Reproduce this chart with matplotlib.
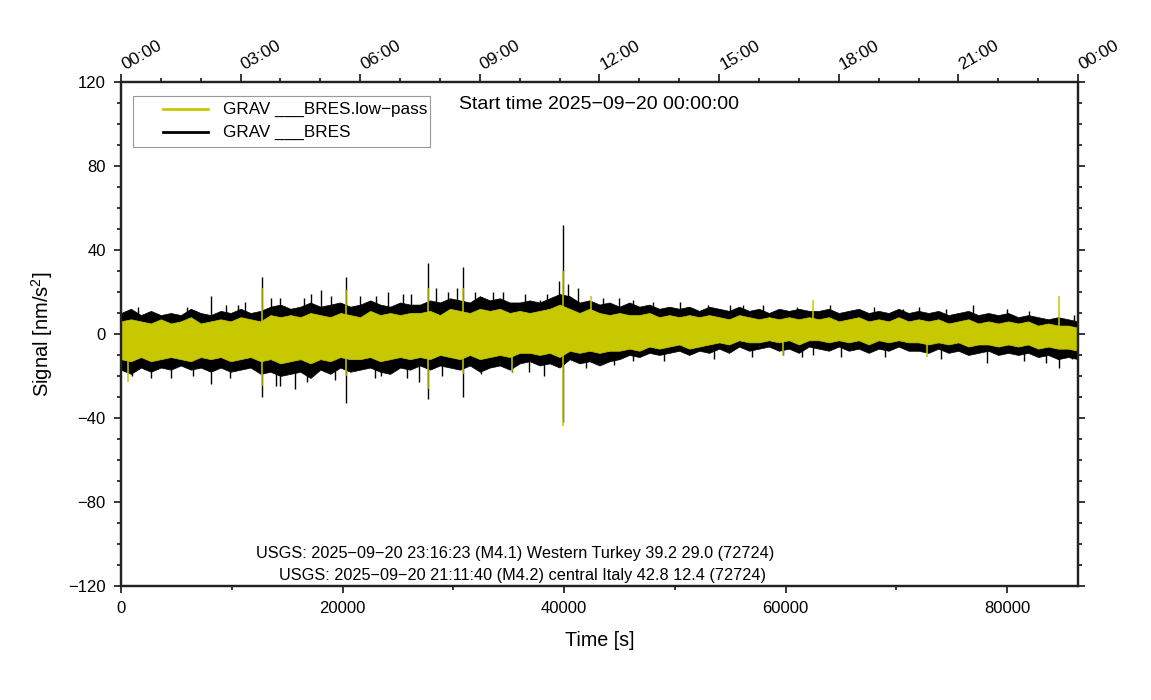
import matplotlib
matplotlib.use("Agg")
import matplotlib.pyplot as plt
import matplotlib.transforms as mtransforms
import numpy as np

plt.rcParams["font.family"] = ["Liberation Sans", "DejaVu Sans"]
plt.rcParams["mathtext.fontset"] = "custom"
plt.rcParams["mathtext.rm"] = "Liberation Sans"

# envelope of the traces, read every 900 s
t_env = np.arange(0, 86401, 900)
black_hi = [10, 12, 9, 11, 9, 10, 9, 12, 10, 9,
            11, 10, 12, 10, 11, 13, 14, 12, 13, 15,
            13, 14, 15, 13, 14, 16, 14, 13, 15, 14,
            14, 16, 15, 17, 16, 15, 18, 16, 17, 15,
            15, 16, 15, 17, 19, 18, 15, 16, 14, 15,
            13, 15, 13, 14, 12, 13, 12, 13, 11, 13,
            12, 11, 13, 11, 12, 10, 12, 11, 12, 11,
            11, 12, 10, 11, 12, 10, 11, 10, 12, 10,
            11, 10, 11, 9, 10, 11, 9, 10, 9, 10,
            8, 9, 8, 7, 8, 7, 6]
black_lo = [-17, -19, -16, -18, -16, -17, -15, -17, -16, -18,
            -16, -18, -17, -16, -19, -18, -20, -19, -18, -21,
            -17, -19, -16, -18, -17, -16, -18, -19, -16, -17,
            -15, -17, -15, -16, -17, -15, -18, -16, -15, -17,
            -14, -13, -15, -14, -16, -12, -14, -13, -15, -13,
            -12, -10, -11, -9, -10, -9, -8, -10, -8, -9,
            -7, -9, -6, -8, -7, -6, -8, -7, -9, -6,
            -7, -8, -6, -8, -7, -9, -7, -8, -6, -8,
            -8, -9, -7, -9, -8, -10, -9, -8, -10, -9,
            -10, -9, -11, -10, -12, -11, -12]
ylw_hi = [6, 7, 6, 5, 7, 5, 6, 8, 5, 6,
          7, 6, 8, 7, 6, 9, 8, 9, 8, 10,
          9, 8, 10, 9, 8, 11, 9, 10, 9, 10,
          10, 11, 9, 12, 11, 10, 12, 11, 12, 10,
          11, 10, 11, 12, 14, 12, 10, 12, 10, 9,
          10, 9, 9, 10, 8, 9, 8, 9, 8, 9,
          8, 7, 9, 8, 7, 8, 7, 8, 7, 8,
          7, 8, 6, 7, 8, 6, 7, 6, 8, 6,
          7, 6, 7, 5, 6, 7, 5, 6, 5, 6,
          5, 6, 4, 5, 4, 4, 3]
ylw_lo = [-12, -13, -11, -13, -12, -11, -12, -13, -11, -12,
          -11, -13, -12, -11, -13, -12, -14, -13, -12, -14,
          -12, -13, -11, -12, -12, -11, -13, -12, -11, -12,
          -11, -12, -10, -11, -12, -10, -12, -11, -10, -11,
          -9, -9, -10, -9, -11, -8, -9, -8, -9, -8,
          -8, -7, -8, -6, -7, -6, -5, -7, -6, -5,
          -4, -5, -3, -4, -4, -3, -4, -3, -5, -3,
          -3, -4, -3, -4, -3, -5, -3, -4, -3, -4,
          -4, -5, -4, -5, -4, -6, -5, -5, -6, -5,
          -6, -5, -7, -6, -7, -7, -8]

# single spikes sticking out of the band
spike_t = [2700, 4500, 8100, 8100, 10600, 11200, 12700, 12700, 14000, 14400, 14400, 15700,
           17200, 18100, 20300, 20300, 21600, 22900, 24100, 26200, 26900, 27700, 27700, 28400,
           30300, 30900, 30900, 33600, 35300, 37800, 39500, 39900, 39900, 40400, 41300, 46200,
           46200, 51200, 56200, 59800, 62500, 66700, 70600, 76900, 78200, 84700, 85900,
           1500, 6000, 9500, 13500, 16500, 19000, 23000, 25500, 29500, 32000, 34500, 36500,
           38500, 43500, 45000, 48000, 50500, 53000, 55000, 58000, 61000, 64000, 68000, 72000,
           74500, 80000, 82000, 86000,
           1000, 6500, 9800, 16800, 19300, 23500, 25800, 29000, 32500, 36800, 38200, 42000,
           44500, 49000, 53500, 57000, 61500, 65000, 69000, 74000, 81500, 83500]
spike_v = [-21, -21, 18, -24, 14, 15, 27, -30, -25, 17, -25, -26, 19, 21, 27, -33, 18, -21,
           20, 19, -23, 34, -31, 22, 22, 32, -30, 20, -18, 16, 25, 52, -42, 24, 22, 16, -13,
           13, 14, -10, -10, 11, 12, 14, -14, -16, -12,
           13, 13, 14, 17, 17, 18, 18, 19, 20, 20, 20, 19,
           19, 17, 17, 15, 15, 14, 14, 14, 13, 14, 13, 13,
           12, 12, 11, 9,
           -20, -20, -21, -23, -22, -20, -21, -20, -19, -18, -20, -16,
           -15, -13, -12, -11, -11, -11, -11, -12, -13, -14]
ylw_spike_t = [630, 12700, 12700, 20300, 20300, 27700, 27700, 30900, 30900, 35300, 39900,
               39900, 42400, 59800, 62500, 72800, 84700]
ylw_spike_v = [-23, 22, -25, 21, -20, 22, -26, 22, -19, -18, 30, -44, 18, -10, 16, -11, 18]

hour_ticks = np.arange(0, 86401, 10800)
hour_labels = ["00:00", "03:00", "06:00", "09:00", "12:00", "15:00", "18:00", "21:00", "00:00"]

YELLOW = "#c8c800"

fig = plt.figure(figsize=(11.51, 7.0), dpi=100)
ax = fig.add_axes([0.1051, 0.1629, 0.8315, 0.72])

# raw trace first, low-pass on top of it
ax.fill_between(t_env, black_lo, black_hi, color="k", lw=0.5, zorder=1.0)
ax.vlines(spike_t, 0, spike_v, color="k", lw=1.0, zorder=1.1)
ax.fill_between(t_env, ylw_lo, ylw_hi, color=YELLOW, lw=0.5, zorder=1.2)
ax.vlines(ylw_spike_t, 0, ylw_spike_v, color=YELLOW, lw=1.1, zorder=1.3)

ax.set_xlim(0, 86400)
ax.set_ylim(-120, 120)
ax.set_xticks(np.arange(0, 86401, 20000))
ax.set_xticks(np.arange(10000, 86401, 20000), minor=True)
ax.set_yticks(np.arange(-120, 121, 40))
ax.set_yticks(np.arange(-120, 121, 10), minor=True)
ax.tick_params(which="both", direction="out", right=True, labelsize=12, width=1.1)
ax.tick_params(which="major", length=5, pad=6)
ax.tick_params(which="minor", length=3)
for s in ax.spines.values():
    s.set_linewidth(1.6)
    s.set_color("#222222")

# clock-time axis on top
ax2 = ax.twiny()
ax2.set_xlim(0, 86400)
ax2.set_xticks(hour_ticks, [])
ax2.set_xticks(np.arange(0, 86401, 3600), minor=True)
ax2.tick_params(which="both", direction="out", width=1.1)
ax2.tick_params(which="major", length=6)
ax2.tick_params(which="minor", length=3)
for s in ax2.spines.values():
    s.set_linewidth(1.6)
    s.set_color("#222222")
lab_off = mtransforms.ScaledTranslation(4 / 100, 12 / 100, fig.dpi_scale_trans)
for t, lab in zip(hour_ticks, hour_labels):
    ax.text(t, 1.0, lab, transform=ax.get_xaxis_transform() + lab_off, rotation=30,
            rotation_mode="anchor", ha="left", va="baseline", fontsize=12.5)

# legend box drawn by hand
ax.add_patch(plt.Rectangle((0.0125, 0.871), 0.3103, 0.1012, transform=ax.transAxes,
                           fill=False, ec="#999999", lw=0.8, zorder=5))
ax.plot([0.0439, 0.0909], [0.9464, 0.9464], color=YELLOW, lw=2, transform=ax.transAxes)
ax.plot([0.0439, 0.0909], [0.9008, 0.9008], color="k", lw=2, transform=ax.transAxes)
ax.text(0.1066, 0.9464, "GRAV ___BRES.low\u2212pass", transform=ax.transAxes,
        fontsize=12.3, va="center")
ax.text(0.1066, 0.9008, "GRAV ___BRES", transform=ax.transAxes, fontsize=12.3, va="center")

ax.text(0.5, 0.956, "Start time 2025\u221209\u221220 00:00:00", transform=ax.transAxes,
        fontsize=14, ha="center", va="center")
ax.text(0.4117, 0.0635, "USGS: 2025\u221209\u221220 23:16:23 (M4.1) Western Turkey 39.2 29.0 (72724)",
        transform=ax.transAxes, fontsize=11.7, ha="center", va="center")
ax.text(0.420, 0.0198, "USGS: 2025\u221209\u221220 21:11:40 (M4.2) central Italy 42.8 12.4 (72724)",
        transform=ax.transAxes, fontsize=11.7, ha="center", va="center")

fig.text(42 / 1151, 1 - 334 / 700, "Signal [nm/$\\mathrm{s}^{2}$]", rotation=90,
         fontsize=14.5, ha="center", va="center")
fig.text(600 / 1151, 1 - 641 / 700, "Time [s]", fontsize=14.2, ha="center", va="center")

fig.savefig("out.png", dpi=100)
